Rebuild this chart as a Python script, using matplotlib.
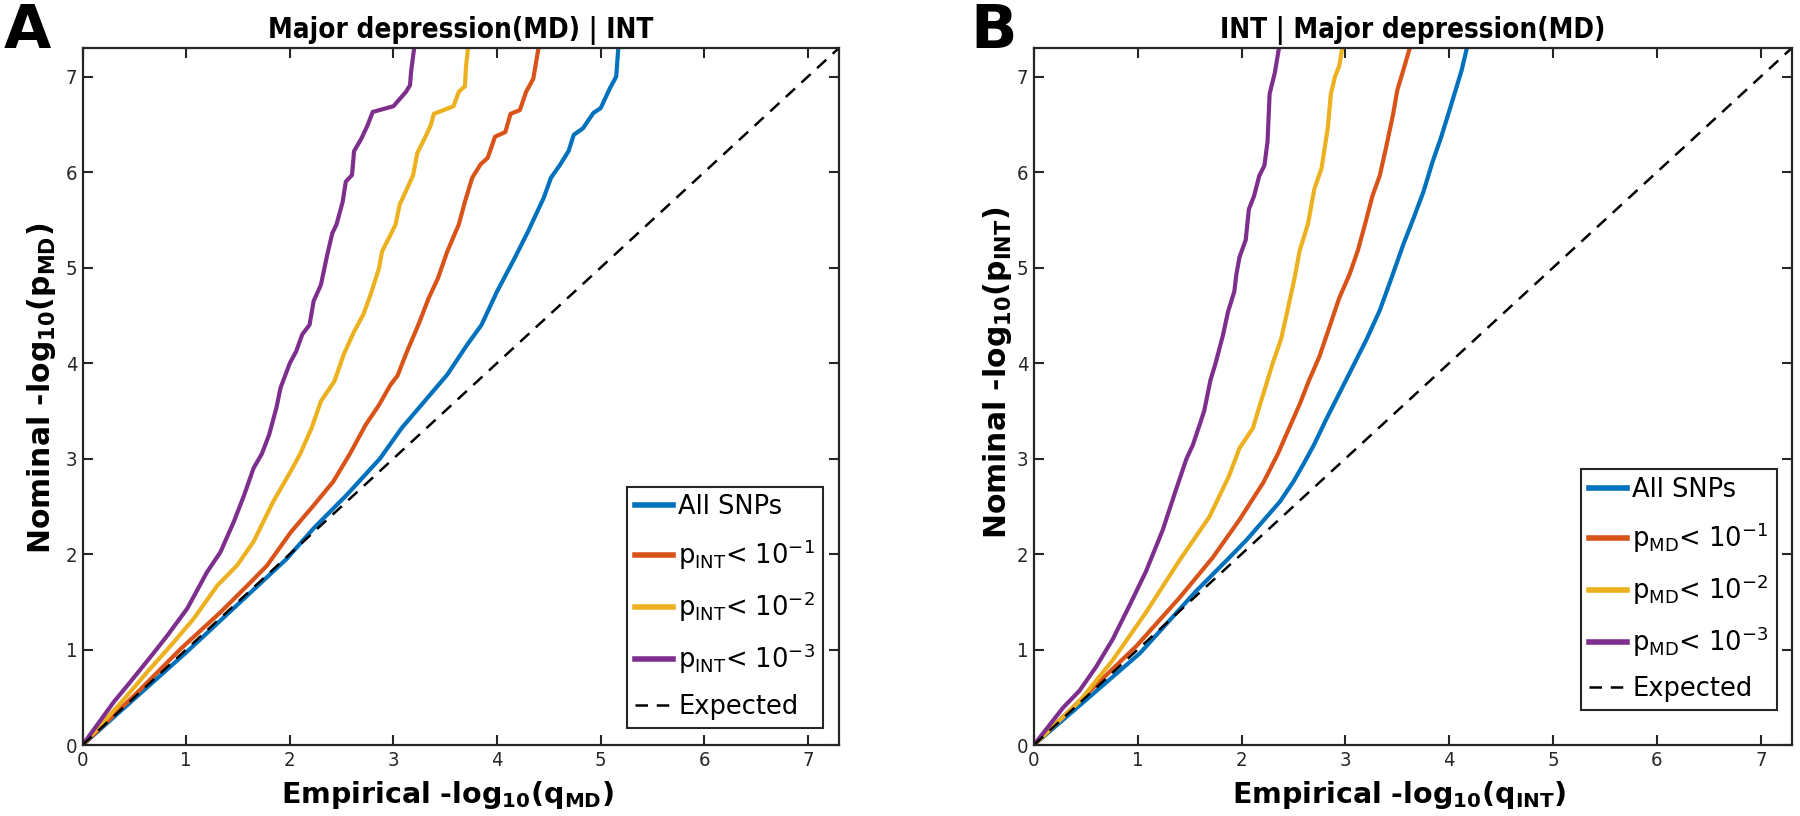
import matplotlib
matplotlib.use("Agg")
import numpy as np
import matplotlib.pyplot as plt

# colours (MATLAB default order)
c_blue = "#0072BD"
c_orange = "#D95319"
c_yellow = "#EDB120"
c_purple = "#7E2F8E"

# ---- panel A : Major depression(MD) | INT ----
a_all_x = [0, 1.0, 1.97, 2.23, 2.55, 2.87, 3.08, 3.30, 3.52, 3.71, 3.85, 4.0, 4.17, 4.30, 4.45,
           4.52, 4.61, 4.69, 4.74, 4.83, 4.93, 5.0, 5.09, 5.15, 5.17]
a_all_y = [0, 0.97, 1.95, 2.27, 2.62, 3.0, 3.32, 3.60, 3.88, 4.19, 4.40, 4.75, 5.10, 5.38, 5.73,
           5.94, 6.08, 6.22, 6.39, 6.46, 6.62, 6.67, 6.88, 7.0, 7.3]

a_p1_x = [0, 0.5, 0.95, 1.33, 1.59, 1.78, 2.01, 2.23, 2.42, 2.58, 2.73, 2.86, 2.97, 3.04, 3.13,
          3.24, 3.34, 3.43, 3.52, 3.63, 3.69, 3.76, 3.84, 3.91, 3.98, 4.08, 4.13, 4.22, 4.28,
          4.35, 4.40]
a_p1_y = [0, 0.52, 1.01, 1.39, 1.67, 1.88, 2.23, 2.51, 2.76, 3.05, 3.35, 3.56, 3.77, 3.87, 4.12,
          4.40, 4.68, 4.89, 5.17, 5.45, 5.69, 5.94, 6.08, 6.15, 6.37, 6.42, 6.61, 6.65, 6.84,
          6.98, 7.3]

a_p2_x = [0, 0.40, 0.62, 0.85, 1.07, 1.30, 1.49, 1.65, 1.84, 2.01, 2.10, 2.21, 2.30, 2.43, 2.52,
          2.62, 2.71, 2.78, 2.86, 2.89, 2.97, 3.02, 3.06, 3.12, 3.19, 3.23, 3.30, 3.36, 3.39,
          3.58, 3.63, 3.69, 3.70, 3.72]
a_p2_y = [0, 0.48, 0.76, 1.04, 1.32, 1.67, 1.88, 2.13, 2.55, 2.87, 3.05, 3.32, 3.60, 3.81, 4.09,
          4.33, 4.51, 4.72, 4.99, 5.17, 5.34, 5.45, 5.66, 5.80, 5.97, 6.20, 6.35, 6.49, 6.61,
          6.69, 6.84, 6.90, 7.1, 7.3]

a_p3_x = [0, 0.30, 0.46, 0.69, 0.82, 1.01, 1.20, 1.33, 1.46, 1.56, 1.65, 1.73, 1.80, 1.87, 1.91,
          2.0, 2.06, 2.12, 2.19, 2.23, 2.30, 2.36, 2.41, 2.45, 2.51, 2.54, 2.60, 2.62, 2.69,
          2.75, 2.80, 3.0, 3.12, 3.16, 3.17, 3.20]
a_p3_y = [0, 0.45, 0.66, 0.97, 1.15, 1.43, 1.81, 2.02, 2.34, 2.62, 2.90, 3.05, 3.25, 3.53, 3.74,
          4.0, 4.12, 4.30, 4.40, 4.65, 4.82, 5.13, 5.36, 5.45, 5.69, 5.90, 5.97, 6.22, 6.35,
          6.49, 6.63, 6.69, 6.84, 6.91, 7.05, 7.3]

# ---- panel B : INT | Major depression(MD) ----
b_all_x = [0, 1.02, 1.56, 1.88, 2.05, 2.21, 2.37, 2.50, 2.60, 2.70, 2.81, 2.94, 3.07, 3.20, 3.33,
           3.44, 3.56, 3.65, 3.75, 3.84, 3.92, 4.0, 4.07, 4.12, 4.17]
b_all_y = [0, 0.96, 1.61, 1.96, 2.15, 2.35, 2.55, 2.76, 2.95, 3.15, 3.40, 3.68, 3.96, 4.24, 4.55,
           4.88, 5.25, 5.5, 5.79, 6.11, 6.36, 6.64, 6.89, 7.07, 7.3]

b_p1_x = [0, 0.99, 1.40, 1.72, 1.98, 2.21, 2.35, 2.43, 2.56, 2.65, 2.75, 2.85, 2.94, 3.04, 3.12,
          3.20, 3.26, 3.33, 3.39, 3.46, 3.50, 3.55, 3.62]
b_p1_y = [0, 1.04, 1.54, 1.96, 2.36, 2.75, 3.05, 3.25, 3.57, 3.82, 4.07, 4.39, 4.68, 4.93, 5.18,
          5.5, 5.75, 5.96, 6.25, 6.61, 6.86, 7.04, 7.3]

b_p2_x = [0, 0.44, 0.76, 1.08, 1.40, 1.69, 1.88, 1.98, 2.11, 2.17, 2.23, 2.30, 2.38, 2.44, 2.51,
          2.56, 2.64, 2.70, 2.77, 2.80, 2.83, 2.86, 2.90, 2.94, 2.97]
b_p2_y = [0, 0.46, 0.89, 1.39, 1.93, 2.39, 2.82, 3.11, 3.32, 3.54, 3.75, 4.0, 4.25, 4.54, 4.89,
          5.18, 5.46, 5.82, 6.04, 6.25, 6.46, 6.82, 7.0, 7.11, 7.3]

b_p3_x = [0, 0.28, 0.44, 0.60, 0.76, 0.92, 1.08, 1.24, 1.37, 1.47, 1.53, 1.61, 1.64, 1.70, 1.75,
          1.82, 1.87, 1.93, 1.95, 1.98, 2.04, 2.07, 2.12, 2.17, 2.22, 2.25, 2.27, 2.32, 2.36]
b_p3_y = [0, 0.39, 0.57, 0.82, 1.11, 1.46, 1.82, 2.25, 2.68, 3.0, 3.14, 3.4, 3.5, 3.82, 4.0,
          4.29, 4.54, 4.75, 4.93, 5.11, 5.29, 5.61, 5.75, 5.96, 6.07, 6.32, 6.82, 7.04, 7.3]

lim = 7.3
ticks = [0, 1, 2, 3, 4, 5, 6, 7]

plt.rcParams['font.family'] = ['DejaVu Sans']


def draw_panel(ax, curves, cond, trait, letter, title, letter_x, fig, leg_anchor, ylab_x, ylab_y):
    names = ["All SNPs",
             r"p$_{\mathregular{%s}}$< 10$^{\mathregular{-1}}$" % cond,
             r"p$_{\mathregular{%s}}$< 10$^{\mathregular{-2}}$" % cond,
             r"p$_{\mathregular{%s}}$< 10$^{\mathregular{-3}}$" % cond]
    cols = [c_blue, c_orange, c_yellow, c_purple]
    for (x, y), col, nm in zip(curves, cols, names):
        ax.plot(x, y, color=col, lw=3.0, label=nm, solid_joinstyle="round")
    ax.plot([0, lim], [0, lim], color="black", lw=1.8, ls=(0, (5, 3.5)), label="Expected")

    ax.set_xlim(0, lim)
    ax.set_ylim(0, lim)
    ax.set_xticks(ticks)
    ax.set_yticks(ticks)
    ax.tick_params(direction="in", length=7, width=1.5, top=True, right=True,
                   labelsize=14.5, colors="#262626", pad=4)
    for lab in ax.get_xticklabels() + ax.get_yticklabels():
        lab.set_fontstretch("condensed")
    for sp in ax.spines.values():
        sp.set_linewidth(1.6)
        sp.set_color("#262626")

    ax.set_title(title, fontsize=20, fontweight="bold", pad=7, fontstretch="condensed")
    ax.set_xlabel(r"Empirical -log$_{\mathbf{10}}$(q$_{\mathbf{%s}}$)" % trait,
                  fontsize=20.5, fontweight="bold", va="center")
    ax.xaxis.set_label_coords(0.482, -0.072)
    ax.set_ylabel(r"Nominal -log$_{\mathbf{10}}$(p$_{\mathbf{%s}}$)" % trait,
                  fontsize=21.5, fontweight="bold", va="center")
    ax.yaxis.set_label_coords(ylab_x, ylab_y)

    leg = ax.legend(loc="lower right", bbox_to_anchor=leg_anchor, fontsize=18.5,
                    frameon=True, fancybox=False, framealpha=1, edgecolor="#262626",
                    handlelength=1.5, handletextpad=0.2, borderpad=0.3,
                    labelspacing=0.68, borderaxespad=0)
    leg.get_frame().set_linewidth(1.5)
    for ln in leg.get_lines()[:4]:
        ln.set_linewidth(4.0)

    fig.text(letter_x, 0.998, letter, fontsize=44, fontweight="bold", ha="left", va="top")


fig = plt.figure(figsize=(18, 8.16), dpi=100)
ax1 = fig.add_axes([0.0459, 0.0870, 0.4202, 0.8542])
ax2 = fig.add_axes([0.5744, 0.0870, 0.4211, 0.8542])

draw_panel(ax1, [(a_all_x, a_all_y), (a_p1_x, a_p1_y), (a_p2_x, a_p2_y), (a_p3_x, a_p3_y)],
           "INT", "MD", "A", "Major depression(MD) | INT", 0.002, fig, (0.979, 0.025), -0.054, 0.511)
draw_panel(ax2, [(b_all_x, b_all_y), (b_p1_x, b_p1_y), (b_p2_x, b_p2_y), (b_p3_x, b_p3_y)],
           "MD", "INT", "B", "INT | Major depression(MD)", 0.539, fig, (0.98, 0.05), -0.048, 0.534)

fig.savefig("out.png", dpi=100)
